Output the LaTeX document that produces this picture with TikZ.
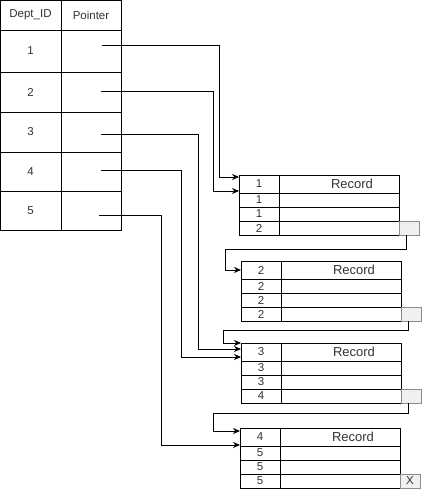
\documentclass[tikz,border=0pt]{standalone}
\usepackage{fontspec}
\setmainfont{Liberation Sans}
\usetikzlibrary{arrows.meta,positioning}

\begin{document}
\begin{tikzpicture}[x=1pt,y=-1pt,line width=0.8pt]
\tikzstyle{every node}+=[inner sep=0pt, outer sep=0pt, text=black!80, font=\fontsize{11.5}{13}\selectfont]
\tikzstyle{idcell}=[draw, minimum width=61pt, anchor=north west]
\tikzstyle{keycell}=[draw, minimum width=40pt, minimum height=14pt]
\tikzstyle{valcell}=[draw, minimum width=120pt, minimum height=14pt]
\tikzstyle{nextbox}=[draw=black!45, fill=black!6, minimum width=20pt, minimum height=14pt]
\tikzstyle{link}=[-{Stealth[length=7pt,width=6pt]}]
\useasboundingbox (0,0) rectangle (422,490);
% index table
\node[idcell, minimum height=30pt] (hid) at (0,0) {Dept\_ID};
\node[idcell, minimum width=60pt, minimum height=30pt] (hptr) at (61,0) {Pointer};
\foreach \i/\t/\h in {1/30/42, 2/72/40, 3/112/40, 4/152/39, 5/191/39} {
	\node[idcell, minimum height=\h pt] (id\i) at (0,\t) {\i};
	\node[idcell, minimum width=60pt, minimum height=\h pt] (ptr\i) at (61,\t) {};
}
\coordinate (p1) at (102,45);
\coordinate (p2) at (101,91);
\coordinate (p3) at (101,134);
\coordinate (p4) at (101,170);
\coordinate (p5) at (99,215);
% record blocks
\foreach \blk/\x/\y/\ka/\kb/\kc/\kd/\gx in {1/239/175/1/1/1/2/{}, 2/241/261/2/2/2/2/{}, 3/241/343/3/3/3/4/{}, 4/240/428/4/5/5/5/X} {
	\node[keycell, minimum height=18pt, anchor=north west] (b\blk k0) at (\x,\y) {\ka};
	\node[valcell, minimum height=18pt, right=0pt of b\blk k0] (b\blk v0) {};
	\node[font=\fontsize{13}{15}\selectfont] (b\blk rec) at ([xshift=13pt]b\blk v0.center) {Record};
	\node[keycell, below=0pt of b\blk k0] (b\blk k1) {\kb};
	\node[valcell, right=0pt of b\blk k1] (b\blk v1) {};
	\node[keycell, below=0pt of b\blk k1] (b\blk k2) {\kc};
	\node[valcell, right=0pt of b\blk k2] (b\blk v2) {};
	\node[keycell, below=0pt of b\blk k2] (b\blk k3) {\kd};
	\node[valcell, right=0pt of b\blk k3] (b\blk v3) {};
	\node[nextbox, right=0pt of b\blk v3] (g\blk) {\gx};
}
% pointers
\draw[link] (p1) -- ++(117,0) |- ([yshift=-2pt]b1k0.north west);
\draw[link] (p2) -- ++(112,0) |- ([yshift=2pt]b1k0.south west);
\draw[link] (p3) -- ++(97,0) |- ([yshift=-6pt]b3k0.north west);
\draw[link] (p4) -- ++(80,0) |- ([yshift=-14pt]b3k0.north west);
\draw[link] (p5) -- ++(62,0) |- ([yshift=1pt]b4k0.south west);
% chain between blocks
\draw[link] ([xshift=-3pt]g1.south) -- ++(0,14) -| ([xshift=-16pt]b2k0.west) -- (b2k0.west);
\draw[link] ([xshift=-3pt]g2.south) -- ++(0,9) -| ([xshift=-18pt]b3k0.north west) -- (b3k0.north west);
\draw[link] ([xshift=-3pt]g3.south) -- ++(0,10) -| ([xshift=-27pt,yshift=-3pt]b4k0.north west) -- ([yshift=-3pt]b4k0.north west);
\end{tikzpicture}
\end{document}
